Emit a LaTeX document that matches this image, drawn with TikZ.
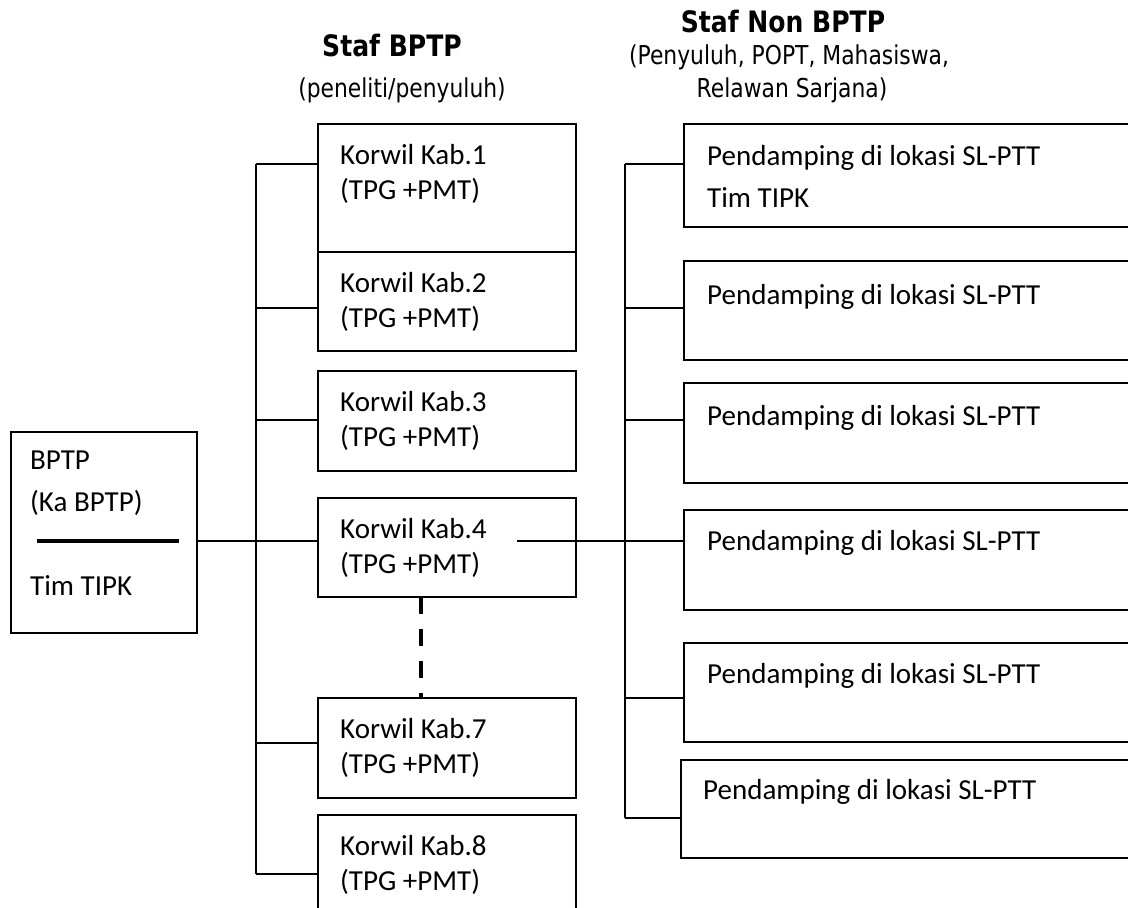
\documentclass[tikz,border=0pt]{standalone}
\usepackage{fontspec}
\setmainfont{Carlito}
\newfontfamily\hdr[FakeStretch=0.84]{DejaVu Sans}
\newfontfamily\hdrb[FakeStretch=0.85]{DejaVu Sans Bold}
\usetikzlibrary{calc}
\begin{document}
\begin{tikzpicture}[x=1pt,y=-1pt,
  box/.style={draw, line width=2pt, rectangle, inner sep=0pt, outer sep=0pt, anchor=north west},
  txt/.style={inner sep=0pt, anchor=base west, font=\fontsize{29pt}{35pt}\selectfont},
  hb/.style={inner sep=0pt, anchor=base, font=\hdrb\fontsize{29.5pt}{34pt}\selectfont},
  hr/.style={inner sep=0pt, anchor=base, font=\hdr\fontsize{26pt}{31pt}\selectfont},
  conn/.style={line width=1.5pt},
]
\useasboundingbox (0,0) rectangle (1128,908);
\clip (0,0) rectangle (1128,908);

% headers
\node[hb] (h1) at (392,56) {Staf BPTP};
\node[hr] (h2) at (402,97) {(peneliti/penyuluh)};
\node[hb] (h3) at (783,32) {Staf Non BPTP};
\node[hr] (h4) at (789,64) {(Penyuluh, POPT, Mahasiswa,};
\node[hr] (h5) at (792,97) {Relawan Sarjana)};

% BPTP box
\node[box, minimum width=186pt, minimum height=201pt] (bptp) at (11,432) {};
\node[txt] (bt1) at (30,469) {BPTP};
\node[txt] (bt2) at (30,511) {(Ka BPTP)};
\node[txt] (bt3) at (30,595) {Tim TIPK};
\draw[line width=4pt] (37,541) -- (179,541);

% Korwil boxes
\node[box, minimum width=258pt, minimum height=128pt] (k1) at (318,124) {};
\node[box, minimum width=258pt, minimum height=99pt] (k2) at (318,252) {};
\node[box, minimum width=258pt, minimum height=100pt] (k3) at (318,371) {};
\node[box, minimum width=258pt, minimum height=99pt] (k4) at (318,498) {};
\node[box, minimum width=258pt, minimum height=100pt] (k7) at (318,698) {};
\node[box, minimum width=258pt, minimum height=130pt] (k8) at (318,815) {};
\foreach \t/\n in {124/1,252/2,371/3,498/4,698/7,815/8} {
  \node[txt] (kt\n-a) at (340,\t+40) {Korwil Kab.\n};
  \node[txt] (kt\n-b) at (340,\t+75) {(TPG +PMT)};
}

% Pendamping boxes
\node[box, minimum width=480pt, minimum height=103pt] (p1) at (684,124) {};
\node[box, minimum width=480pt, minimum height=99pt] (p2) at (684,261) {};
\node[box, minimum width=480pt, minimum height=100pt] (p3) at (684,383) {};
\node[box, minimum width=480pt, minimum height=100pt] (p4) at (684,510) {};
\node[box, minimum width=480pt, minimum height=99pt] (p5) at (684,643) {};
\node[box, minimum width=480pt, minimum height=98pt] (p6) at (681,760) {};
\node[txt] (pt1) at (707,165) {Pendamping di lokasi SL-PTT};
\node[txt] (pt1b) at (707,207) {Tim TIPK};
\node[txt] (pt2) at (707,304) {Pendamping di lokasi SL-PTT};
\node[txt] (pt3) at (707,425) {Pendamping di lokasi SL-PTT};
\node[txt] (pt4) at (707,550) {Pendamping di lokasi SL-PTT};
\node[txt] (pt5) at (707,683) {Pendamping di lokasi SL-PTT};
\node[txt] (pt6) at (703,799) {Pendamping di lokasi SL-PTT};

% left trunk
\coordinate (L1) at (256,164);
\coordinate (L2) at (256,308);
\coordinate (L3) at (256,420);
\coordinate (L4) at (256,541);
\coordinate (L7) at (256,743);
\coordinate (L8) at (256,874);
\draw[conn] (L1) -- (L8);
\draw[conn] (L1) -- (L1 -| k1.west);
\draw[conn] (L2) -- (L2 -| k2.west);
\draw[conn] (L3) -- (L3 -| k3.west);
\draw[conn] (L4 -| bptp.east) -- (L4 -| k4.west);
\draw[conn] (L7) -- (L7 -| k7.west);
\draw[conn] (L8) -- (L8 -| k8.west);

% right trunk
\coordinate (R1) at (625,164);
\coordinate (R2) at (625,308);
\coordinate (R3) at (625,420);
\coordinate (R4) at (625,541);
\coordinate (R5) at (625,698);
\coordinate (R6) at (625,818);
\coordinate (k4o) at (517,541);
\draw[conn] (R1) -- (R6);
\draw[conn] (R1) -- (R1 -| p1.west);
\draw[conn] (R2) -- (R2 -| p2.west);
\draw[conn] (R3) -- (R3 -| p3.west);
\draw[conn] (k4o) -- (R4 -| p4.west);
\draw[conn] (R5) -- (R5 -| p5.west);
\draw[conn] (R6) -- (R6 -| p6.west);

% dashed link
\coordinate (d1) at (421,597);
\draw[line width=3.3pt, dash pattern=on 17pt off 15pt] (d1 |- k4.south) -- (d1 |- k7.north);
\end{tikzpicture}
\end{document}
